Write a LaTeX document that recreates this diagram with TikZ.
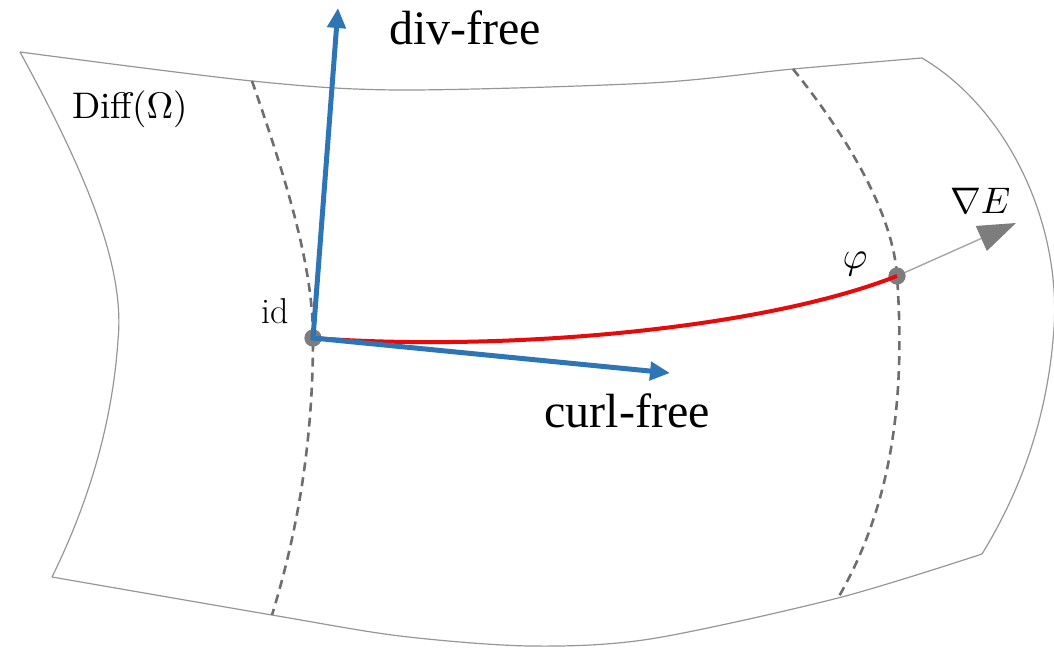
\documentclass[tikz,border=0pt]{standalone}
\usepackage{graphicx}
\usepackage{fontspec}
\newfontfamily\timesf{Liberation Serif}
\usetikzlibrary{arrows.meta}
\definecolor{outlinegray}{RGB}{150,150,150}
\definecolor{dashgray}{RGB}{110,110,110}
\definecolor{dotgray}{RGB}{125,125,125}
\definecolor{gradline}{RGB}{165,165,165}
\definecolor{vecblue}{RGB}{46,117,182}
\definecolor{curvered}{RGB}{232,10,10}
\begin{document}
\begin{tikzpicture}[x=1pt,y=-1pt,
  edge/.style={draw=outlinegray,line width=1.2pt},
  guide/.style={draw=dashgray,line width=2.6pt,dash pattern=on 9pt off 6pt},
  pointdot/.style={circle,fill=dotgray,inner sep=0pt,minimum size=17pt},
  redcurve/.style={draw=curvered,line width=4pt},
  bluevec/.style={draw=vecblue,line width=5pt,miter limit=10,
    {Triangle[length=20pt,width=18pt]}-{Triangle[length=20pt,width=18pt]}},
  gradarrow/.style={draw=gradline,line width=1.4pt,
    -{Triangle[length=38pt,width=27pt,color=dotgray]}},
  lab/.style={inner sep=0pt,outer sep=0pt}
]
\useasboundingbox (0,0) rectangle (1054,651);

% surface outline
\draw[edge] plot[smooth] coordinates {(20,52) (252,81) (400,90) (650,83) (793,69) (922,58)};
\draw[edge] (922,58) .. controls (1010,110) and (1065,230) .. (1053,340)
                     .. controls (1045,430) and (1015,500) .. (982,554);
\draw[edge] plot[smooth] coordinates {(52,577) (272,615) (400,636) (530,646) (650,639) (838,598) (982,554)};
\draw[edge] (20,52) .. controls (90,180) and (125,270) .. (118,340)
                    .. controls (112,430) and (85,510) .. (52,577);

% points
\node[pointdot] (id) at (313,338) {};
\node[pointdot] (phi) at (897,276) {};

% dashed fibres
\draw[guide] (252,81) .. controls (290,190) and (313,270) .. (id.center)
                      .. controls (313,450) and (295,540) .. (272,615);
\draw[guide] (793,69) .. controls (850,140) and (893,215) .. (phi.center)
                      .. controls (905,390) and (895,500) .. (838,598);

\node[pointdot] at (id) {};
\node[pointdot] at (phi) {};

\coordinate (divtip) at (338,8);
\coordinate (curltip) at (670,373);
\coordinate (gradtip) at (1016,223);

% red geodesic
\draw[redcurve] (id.center) .. controls (500,352) and (760,330) .. (phi.center);

% gradient arrow
\draw[gradarrow] (phi) -- (gradtip);

% blue vectors
\draw[bluevec] (divtip) -- (id.center) -- (curltip);

% labels
\node[lab,anchor=base] (divlab) at (465,44) {\timesf\fontsize{48}{50}\selectfont div-free};
\node[lab,anchor=base] (curllab) at (627,427) {\timesf\fontsize{48}{50}\selectfont curl-free};
\node[lab,anchor=base west] (difflab) at (72,118) {\scalebox{3.7}{Diff($\Omega$)}};
\node[lab,anchor=base west] (idlab) at (261,323) {\fontsize{36}{40}\selectfont id};
\node[lab] (philab) at (855,264) {\scalebox{3.8}{$\varphi$}};
\node[lab,anchor=base west] (gradlab) at (950,213) {\scalebox{3.7}{$\nabla E$}};
\end{tikzpicture}
\end{document}
